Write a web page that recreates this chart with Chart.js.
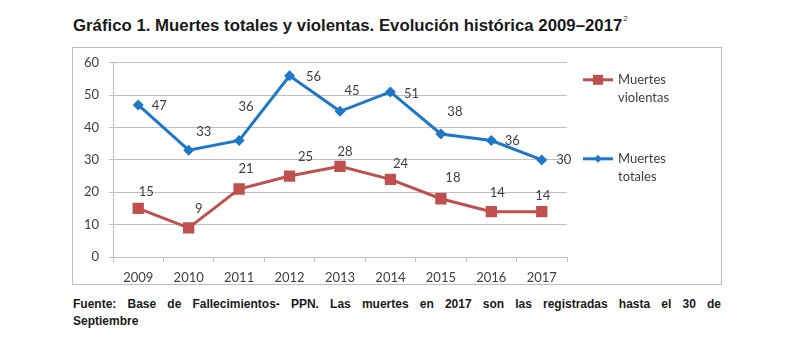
<!DOCTYPE html>
<html>
<head>
<meta charset="utf-8">
<script src="https://cdn.jsdelivr.net/npm/chart.js@4"></script>
<style>
  html,body{margin:0;padding:0;background:#fff;width:800px;height:355px;overflow:hidden;}
  #title{position:absolute;left:73px;top:16px;font-family:"Liberation Sans",Arial,sans-serif;font-weight:bold;font-size:16.8px;color:#1a1a1a;white-space:nowrap;}
  #title sup{font-size:8px;font-weight:normal;color:#333;position:relative;top:-3px;margin-left:1px;}
  #box{position:absolute;left:72px;top:47px;width:648px;height:236px;border:1.5px solid #bdbdbd;}
  #box canvas{position:absolute;left:0;top:-3px;}
  #foot{position:absolute;left:73px;top:296px;width:648px;font-family:"Liberation Sans",Arial,sans-serif;font-weight:bold;font-size:12px;line-height:17px;color:#1a1a1a;}
  #foot .l1{display:block;text-align:justify;text-align-last:justify;}
</style>
</head>
<body>
<div id="title">Gráfico 1. Muertes totales y violentas. Evolución histórica 2009–2017<sup>2</sup></div>
<div id="box"><canvas id="c" width="648" height="239"></canvas></div>
<div id="foot"><span class="l1">Fuente: Base de Fallecimientos- PPN. Las muertes en 2017 son las registradas hasta el 30 de</span>Septiembre</div>
<script>
const years = ["2009","2010","2011","2012","2013","2014","2015","2016","2017"];
const muertesViolentas = [15, 9, 21, 25, 28, 24, 18, 14, 14];
const muertesTotales = [47, 33, 36, 56, 45, 51, 38, 36, 30];
const seriesNames = [["Muertes","violentas"],["Muertes","totales"]];
const yTicks = [0,10,20,30,40,50,60];

const RED = "#c0504d", BLUE = "#1f77c9";
const FONT = "Lato, 'Open Sans', sans-serif";
const TXT = "#404040";

// label placement (style only): offset of each value label from its point, in px
const labelNudgeViolentas = [[8,-17],[10,-19],[7,-20],[16,-19],[5,-15],[10,-16],[12,-21],[6,-19],[1,-16]];
const labelNudgeTotales = [[21,1],[15,-18],[7,-34],[24,1],[12,-21],[21,2],[14,-22],[21,0],[22,0]];

const labelPlugin = {
  id: "pointLabels",
  afterDatasetsDraw(chart) {
    const ctx = chart.ctx;
    ctx.save();
    ctx.font = "13px " + FONT;
    ctx.fillStyle = TXT;
    ctx.textAlign = "center";
    ctx.textBaseline = "middle";
    chart.data.datasets.forEach((ds, i) => {
      const meta = chart.getDatasetMeta(i);
      meta.data.forEach((pt, j) => {
        const off = ds.labelNudge[j];
        ctx.fillText(String(ds.data[j]), pt.x + off[0], pt.y + off[1]);
      });
    });
    ctx.restore();
  }
};

const legendPlugin = {
  id: "sideLegend",
  afterDraw(chart) {
    const ctx = chart.ctx;
    const x0 = chart.chartArea.right + 16;
    const rows = [chart.chartArea.top + 17, chart.chartArea.top + 96];
    chart.data.datasets.forEach((ds, i) => {
      const y = rows[i];
      ctx.save();
      ctx.strokeStyle = ds.borderColor;
      ctx.lineWidth = 3;
      ctx.beginPath(); ctx.moveTo(x0, y); ctx.lineTo(x0 + 30, y); ctx.stroke();
      ctx.fillStyle = ds.borderColor;
      if (ds.pointStyle === "rect") {
        ctx.fillRect(x0 + 15 - 5, y - 5, 10, 10);
      } else {
        ctx.beginPath();
        ctx.moveTo(x0 + 15, y - 4); ctx.lineTo(x0 + 19, y); ctx.lineTo(x0 + 15, y + 4); ctx.lineTo(x0 + 11, y);
        ctx.closePath(); ctx.fill();
      }
      ctx.fillStyle = TXT;
      ctx.font = "13px " + FONT;
      ctx.textAlign = "left";
      ctx.textBaseline = "middle";
      seriesNames[i].forEach((t, k) => ctx.fillText(t, x0 + 35, y + k * 18));
      ctx.restore();
    });
  }
};

new Chart(document.getElementById("c"), {
  type: "line",
  data: {
    labels: years,
    datasets: [
      {
        label: seriesNames[0].join(" "),
        data: muertesViolentas,
        borderColor: RED, backgroundColor: RED,
        borderWidth: 3, pointStyle: "rect", pointRadius: 8, pointHoverRadius: 8,
        pointBorderWidth: 0, tension: 0, labelNudge: labelNudgeViolentas
      },
      {
        label: seriesNames[1].join(" "),
        data: muertesTotales,
        borderColor: BLUE, backgroundColor: BLUE,
        borderWidth: 3, pointStyle: "rectRot", pointRadius: 5.5, pointHoverRadius: 5.5,
        pointBorderWidth: 0, tension: 0, labelNudge: labelNudgeTotales
      }
    ]
  },
  options: {
    responsive: false,
    animation: false,
    devicePixelRatio: 1,
    layout: { padding: { top: 10, right: 154, left: 0, bottom: 0 } },
    plugins: { legend: { display: false }, tooltip: { enabled: false } },
    scales: {
      x: {
        offset: true,
        grid: { display: true, drawOnChartArea: false, drawTicks: true, tickLength: 5, color: "#bfbfbf", offset: true },
        border: { color: "#bfbfbf", width: 1 },
        ticks: { font: { family: FONT, size: 13 }, color: TXT, padding: 8, maxRotation: 0 },
        afterFit(s) { s.height = 27; }
      },
      y: {
        min: 0, max: 60,
        afterBuildTicks(s) { s.ticks = yTicks.map(v => ({ value: v })); },
        grid: { color: "#bfbfbf", tickLength: 4, drawTicks: true },
        border: { color: "#bfbfbf", width: 1 },
        ticks: { font: { family: FONT, size: 13 }, color: TXT, padding: 10 },
        afterFit(s) { s.width = 40; }
      }
    }
  },
  plugins: [labelPlugin, legendPlugin]
});
</script>
</body>
</html>
